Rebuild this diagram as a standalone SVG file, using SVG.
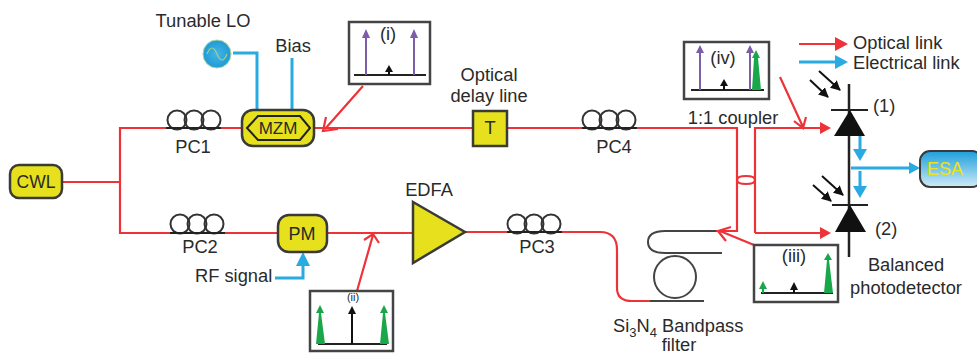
<svg xmlns="http://www.w3.org/2000/svg" width="977" height="355" viewBox="0 0 977 355">
<style>
text{font-family:"Liberation Sans",Arial,sans-serif;font-size:18.3px;fill:#2a2a2a}
.c{text-anchor:middle}
.red{fill:none;stroke:#ee3338;stroke-width:2.2}
.blue{fill:none;stroke:#29abe2;stroke-width:3}
.blk{fill:none;stroke:#222;stroke-width:2.5}
.node{fill:#e6e11c;stroke:#3a3a36;stroke-width:2.5}
.pc{fill:none;stroke:#333;stroke-width:2}
.box{fill:#fff;stroke:#444;stroke-width:2.5}
.base{stroke:#222;stroke-width:2}
.pur{stroke:#7b5ea7;stroke-width:2}
.grn{stroke:#18a84a;stroke-width:2}
.pf{fill:#7b5ea7}.gf{fill:#18a84a}.bf{fill:#111}
.ray{stroke:#111;stroke-width:2;marker-end:url(#blackHead)}
</style>
<defs>
<marker id="blackHead" markerUnits="userSpaceOnUse" markerWidth="12" markerHeight="12" refX="9" refY="5" orient="auto"><path d="M0 0L10 5L0 10Z" fill="#111"/></marker>
<linearGradient id="esa" x1="0" y1="0" x2="0" y2="1"><stop offset="0" stop-color="#1d9fdb"/><stop offset="1" stop-color="#cfeaf6"/></linearGradient>
<radialGradient id="lo"><stop offset="0" stop-color="#45b5e5"/><stop offset="1" stop-color="#1f9ad6"/></radialGradient>
</defs>
<g id="connectors">
<path class="red" d="M62 182H120V128H242M120 182V233H278"/>
<path class="red" d="M314 128H473M507 128H737V231H716"/>
<path class="red" d="M327 233H413M465 232H600Q617 232 617 250V288Q617 301 632 301H650"/>
<path class="red" d="M755 233V128H822M755 233H822"/>
<path class="red" d="M746 176Q737 176 737 180Q737 184 746 184Q755 184 755 180Q755 176 746 176Z"/>
<path d="M831 128L820 122V134Z M831 233L820 227V239Z" fill="#ee3338"/>
<path class="red" d="M780 77L803 127M794 121L803 128L806 117"/>
<path class="red" d="M363 86L325 129M326 117L323 131L338 129"/>
<path class="red" d="M357 291L373 235M364 240L373 234L379 243"/>
<path class="red" d="M754 245L720 231M731 227L718 231L726 241"/>
<path class="blue" d="M233 53H257V110M292 58V110"/>
<path class="blue" d="M275 278H303V260"/>
<path d="M303 252L296 266H310Z" fill="#29abe2"/>
<path class="blue" d="M851 168H912"/>
<path d="M920 168L909 162V174Z" fill="#29abe2"/>
<path class="blue" d="M860 136V152M860 171V188"/>
<path d="M860 161L853 149H867Z M860 198L853 186H867Z" fill="#29abe2"/>
<path class="red" d="M799 44H838"/>
<path d="M848 44L835 37V51Z" fill="#ee3338"/>
<path class="blue" d="M799 62H838"/>
<path d="M848 62L835 55V69Z" fill="#29abe2"/>
<line class="ray" x1="819" y1="71" x2="840" y2="90"/>
<line class="ray" x1="810" y1="80" x2="828" y2="97"/>
<line class="ray" x1="822" y1="176" x2="843" y2="195"/>
<line class="ray" x1="813" y1="185" x2="831" y2="201"/>
</g>
<g id="cwl"><rect class="node" x="10" y="165" width="52" height="33" rx="9"/><text class="c" x="36" y="188" style="font-size:17.5px">CWL</text></g>
<g id="pc1"><circle class="pc" cx="177" cy="120" r="9.5"/><circle class="pc" cx="194" cy="120" r="9.5"/><circle class="pc" cx="211" cy="120" r="9.5"/><line class="base" x1="166" y1="128" x2="221" y2="128"/><text class="c" x="193" y="153">PC1</text></g>
<g id="pc2"><circle class="pc" cx="180" cy="224" r="9.5"/><circle class="pc" cx="197" cy="224" r="9.5"/><circle class="pc" cx="214" cy="224" r="9.5"/><line class="base" x1="170" y1="233" x2="225" y2="233"/><text class="c" x="200" y="253">PC2</text></g>
<g id="pc3"><circle class="pc" cx="517" cy="224" r="9.5"/><circle class="pc" cx="534" cy="224" r="9.5"/><circle class="pc" cx="551" cy="224" r="9.5"/><line class="base" x1="507" y1="232" x2="562" y2="232"/><text class="c" x="537" y="253">PC3</text></g>
<g id="pc4"><circle class="pc" cx="592" cy="120" r="9.5"/><circle class="pc" cx="609" cy="120" r="9.5"/><circle class="pc" cx="626" cy="120" r="9.5"/><line class="base" x1="582" y1="128" x2="637" y2="128"/><text class="c" x="614" y="153">PC4</text></g>
<g id="lo-source"><circle cx="217" cy="54" r="14" fill="url(#lo)" stroke="#a8d8a0"/><path d="M207 54Q212 42 217 54T227 54" fill="none" stroke="#9fd08a" stroke-width="1.2"/><text class="c" x="203" y="27">Tunable LO</text></g>
<g id="bias"><text class="c" x="293" y="52">Bias</text></g>
<g id="mzm"><rect class="node" x="242" y="110" width="72" height="36" rx="11"/><path d="M247 128L258 116H300L310 128L300 140H258Z" fill="none" stroke="#222" stroke-width="2"/><text class="c" x="278" y="134" style="font-size:17px">MZM</text></g>
<g id="pm"><rect class="node" x="278" y="215" width="49" height="37" rx="11"/><text class="c" x="302" y="240" style="font-size:18px">PM</text></g>
<g id="rf"><text x="195" y="282">RF signal</text></g>
<g id="edfa"><path class="node" d="M413 202L465 232L413 263Z"/><text class="c" x="429" y="196">EDFA</text></g>
<g id="delay"><rect class="node" x="473" y="111" width="34" height="35"/><text class="c" x="490" y="134">T</text><text class="c" x="489" y="81">Optical</text><text class="c" x="489" y="102">delay line</text></g>
<g id="box-i"><rect class="box" x="349" y="22" width="81" height="62"/><line class="base" x1="354" y1="75" x2="426" y2="75"/><line class="pur" x1="366" y1="75" x2="366" y2="35"/><line class="pur" x1="414" y1="75" x2="414" y2="35"/><path class="pf" d="M366 29L362 38H370ZM414 29L410 38H418Z"/><path class="bf" d="M389 65L385 72H388V75H390V72H393Z"/><text class="c" x="388" y="40">(i)</text></g>
<g id="box-ii"><rect class="box" x="310" y="291" width="83" height="60"/><line class="base" x1="318" y1="344" x2="387" y2="344"/><line x1="352" y1="344" x2="352" y2="310" stroke="#111" stroke-width="2"/><path class="bf" d="M352 306L348 314H356Z"/><path class="gf" d="M320 305L316 313H319L316 344H325L321 313H324Z M384 305L380 313H383L380 344H389L385 313H388Z"/><text class="c" x="353" y="301" style="font-size:11px">(ii)</text></g>
<g id="box-iii"><rect class="box" x="754" y="245" width="84" height="57"/><line class="base" x1="761" y1="293" x2="833" y2="293"/><path class="gf" d="M763 281L759 289H762V293H764V289H767Z M828 253L824 260H827L824 293H833L829 260H832Z"/><path class="bf" d="M794 282L790 290H793V293H795V290H798Z"/><text class="c" x="794" y="262">(iii)</text></g>
<g id="box-iv"><rect class="box" x="684" y="42" width="85" height="57"/><line class="base" x1="691" y1="90" x2="764" y2="90"/><line class="pur" x1="700" y1="90" x2="700" y2="50"/><line class="pur" x1="750" y1="90" x2="750" y2="50"/><path class="pf" d="M700 45L696 53H704ZM750 45L746 53H754Z"/><path class="gf" d="M756 50L752 58H754L752 90H761L758 58H760Z"/><path class="bf" d="M724 79L720 86H723V90H725V86H728Z"/><text class="c" x="723" y="64">(iv)</text></g>
<g id="coupler"><text class="c" x="733" y="124">1:1 coupler</text></g>
<g id="filter"><path class="blk" style="stroke:#444;stroke-width:2" d="M716 231H665Q648 231 648 242Q648 253 665 253H722"/><circle cx="675" cy="277" r="21" fill="none" stroke="#444" stroke-width="2"/><line x1="650" y1="301" x2="704" y2="301" stroke="#444" stroke-width="2"/><text x="613" y="332">Si<tspan dy="5" style="font-size:13px">3</tspan><tspan dy="-5">N</tspan><tspan dy="5" style="font-size:13px">4</tspan><tspan dy="-5"> Bandpass</tspan></text><text class="c" x="679" y="351">filter</text></g>
<g id="detector"><line x1="849" y1="84" x2="849" y2="257" stroke="#222" stroke-width="2.5"/><line x1="831" y1="110" x2="868" y2="110" stroke="#222" stroke-width="2"/><path class="bf" d="M850 110L834 136H865Z"/><line x1="832" y1="205" x2="868" y2="205" stroke="#222" stroke-width="2"/><path class="bf" d="M850 205L835 232H866Z"/><text x="873" y="112">(1)</text><text x="875" y="235">(2)</text><text class="c" x="906" y="271">Balanced</text><text class="c" x="906" y="294">photodetector</text></g>
<g id="esa-node"><rect x="920" y="151" width="62" height="36" rx="10" fill="url(#esa)" stroke="#3a3a36" stroke-width="2"/><text x="927" y="175" style="fill:#eee21a;font-size:18px">ESA</text></g>
<g id="legend"><text x="853" y="49">Optical link</text><text x="853" y="69">Electrical link</text></g>
</svg>
